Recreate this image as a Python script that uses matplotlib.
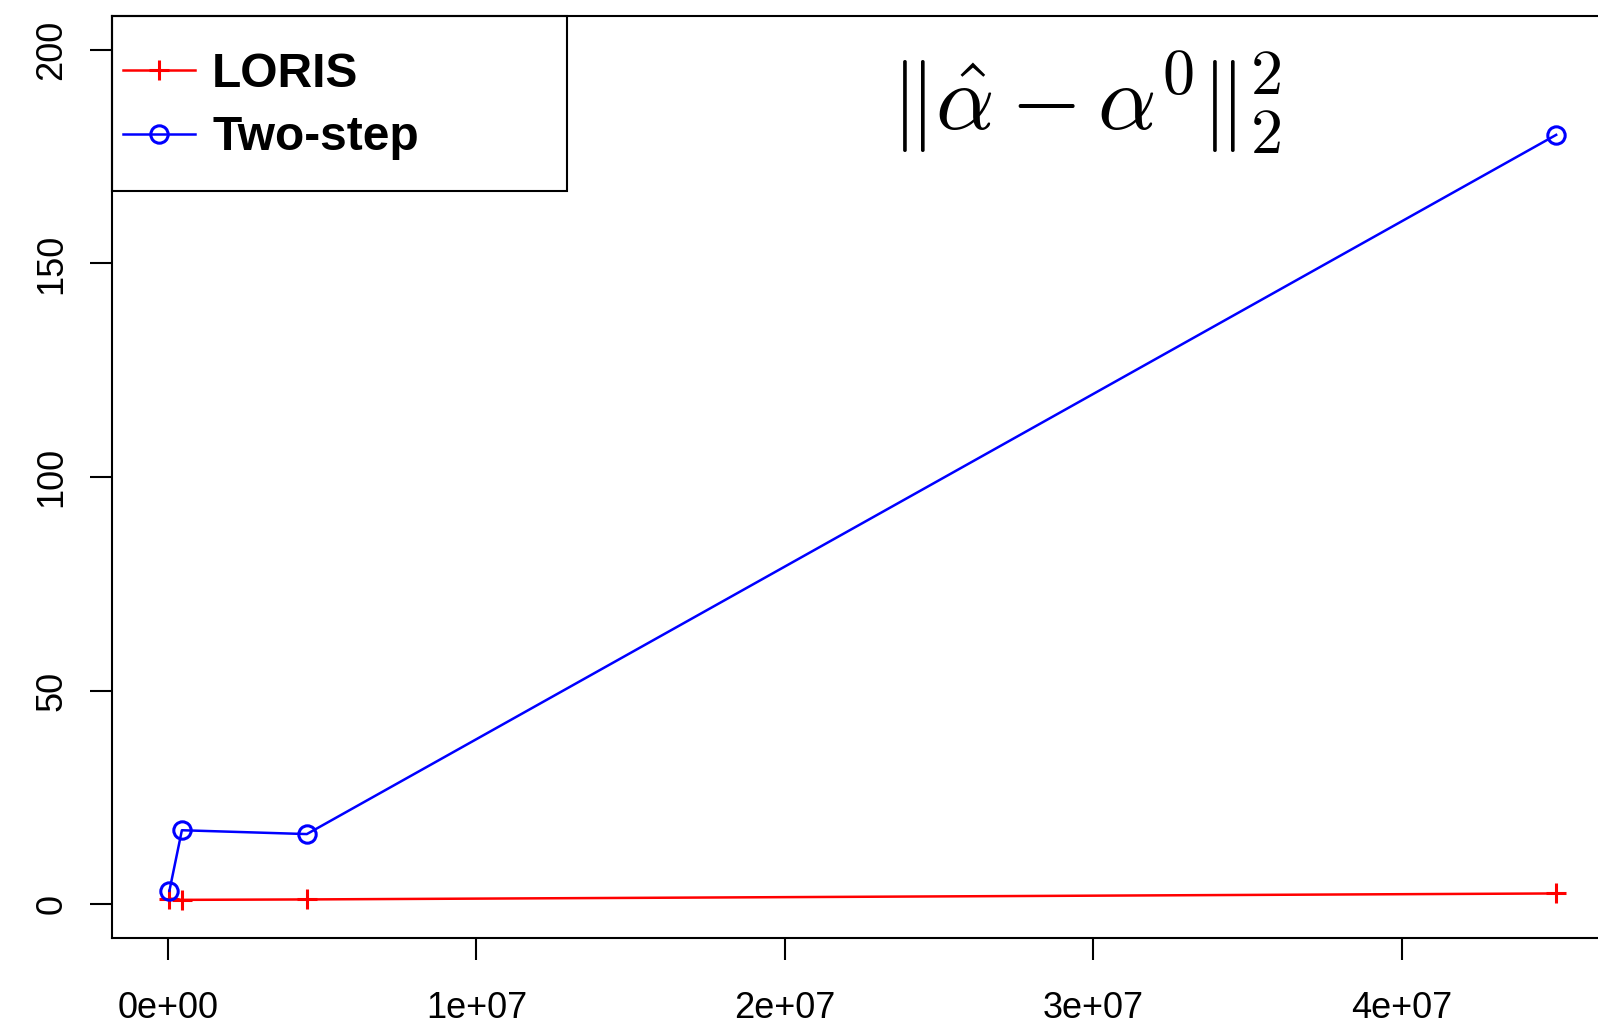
import matplotlib.pyplot as plt
from matplotlib.patches import Rectangle

# Data
n_values = [4.5e4, 4.5e5, 4.5e6, 4.5e7]
loris_err = [1.3, 1.0, 1.1, 2.5]
twostep_err = [3.1, 17.3, 16.4, 180.1]
x_ticks = [0, 1e7, 2e7, 3e7, 4e7]
x_tick_labels = ["0e+00", "1e+07", "2e+07", "3e+07", "4e+07"]
y_ticks = [0, 50, 100, 150, 200]

plt.rcParams['font.family'] = ['Liberation Sans', 'DejaVu Sans']
plt.rcParams['mathtext.fontset'] = 'cm'

W, H = 1598, 1027
fig = plt.figure(figsize=(W / 100, H / 100), dpi=100)
# axes box runs past the right edge of the picture, as in the reference
ax = fig.add_axes([112.3 / W, 88.7 / H, 1499.7 / W, 922.6 / H])

ax.plot(n_values, loris_err, color='#ff0000', lw=1.8, marker='+', ms=14, mew=2.2,
        label='LORIS')
ax.plot(n_values, twostep_err, color='#0000ff', lw=1.8, marker='o', ms=12.5, mew=2.2,
        mfc='none', label='Two-step')

ax.set_xlim(-1.806e6, 4.681e7)
ax.set_ylim(-8, 208)
ax.set_xticks(x_ticks)
ax.set_xticklabels(x_tick_labels)
ax.set_yticks(y_ticks)
ax.set_yticklabels([str(v) for v in y_ticks], rotation=90, va='center')

for s in ax.spines.values():
    s.set_linewidth(1.5)
ax.tick_params(axis='both', length=16, width=1.5, labelsize=26)
ax.tick_params(axis='x', pad=22)
ax.tick_params(axis='y', pad=15)

# legend box drawn separately (R style: wide box, handles near the left edge)
box_w = 454.4 / 1499.7
box_b = (938.3 - 191) / 922.6
ax.add_patch(Rectangle((0, box_b), box_w, 1 - box_b, transform=ax.transAxes,
                       fill=False, edgecolor='black', lw=1.5, zorder=5, clip_on=False))
leg = ax.legend(loc='upper left', bbox_to_anchor=(0.0071, 0.9605), frameon=False,
                borderaxespad=0, borderpad=0,
                prop={'weight': 'bold', 'size': 34.5}, handlelength=1.5,
                handletextpad=0.36, labelspacing=0.38)

fig.text(1086 / W, 1 - 103 / H, r'$\Vert\hat{\alpha}-\alpha^0\Vert_2^2$',
         fontsize=66, ha='center', va='center')

plt.savefig('out.png', dpi=100)
